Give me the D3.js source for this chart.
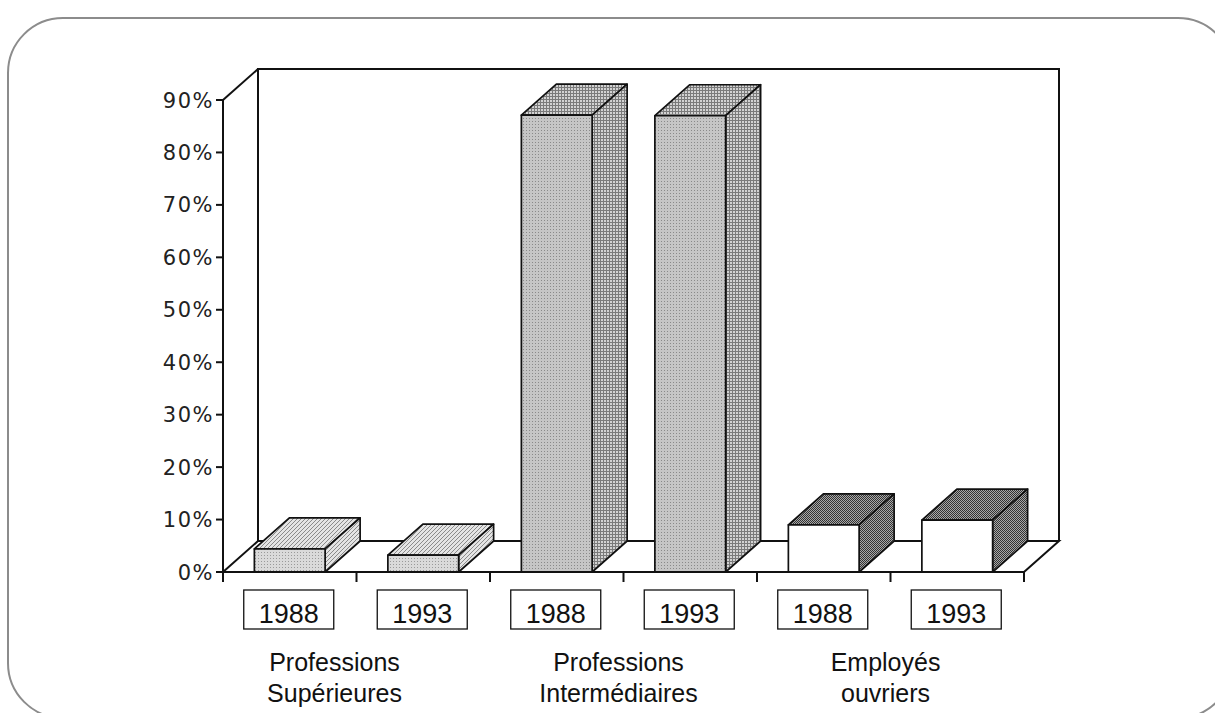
<!DOCTYPE html>
<html lang="fr">
<head>
  <meta charset="UTF-8">
  <title>Professions 1988 / 1993</title>
  <style>
    html, body { margin: 0; padding: 0; background: #fff; }
    svg { display: block; }
    .ylab { font-family: "DejaVu Sans", sans-serif; font-size: 21px; letter-spacing: 1.5px; fill: #222; }
    .year { font-family: "Liberation Sans", Arial, sans-serif; font-size: 27px; fill: #111; }
    .group { font-family: "Liberation Sans", Arial, sans-serif; font-size: 25px; fill: #111; }
  </style>
</head>
<body>
  <svg id="chart" width="1215" height="713"></svg>
  <script src="https://cdn.jsdelivr.net/npm/d3@7/dist/d3.min.js"></script>
  <script>
    // data
    const groups = [['Professions', 'Supérieures'], ['Professions', 'Intermédiaires'], ['Employés', 'ouvriers']]
    const years = ['1988', '1993']
    const values1988 = [4.4, 87.1, 9.0]
    const values1993 = [3.2, 87.0, 9.9]
    const yTicks = [0, 10, 20, 30, 40, 50, 60, 70, 80, 90]

    const bars = []
    groups.forEach((g, i) => {
      bars.push({ key: i + '-1988', group: i, year: years[0], value: values1988[i] })
      bars.push({ key: i + '-1993', group: i, year: years[1], value: values1993[i] })
    })

    const svg = d3.select('#chart')
    const dx = 35, dy = -31

    const x = d3.scaleBand().domain(bars.map(d => d.key)).range([223, 1024])
    const step = x.step()
    const barPad = step * 0.235, barW = step * 0.53
    const y = d3.scaleLinear().domain([0, 90]).range([572, 100])

    // patterns
    const defs = svg.append('defs')
    function pat(id, size, bg, draw) {
      const p = defs.append('pattern').attr('id', id).attr('patternUnits', 'userSpaceOnUse')
        .attr('width', size).attr('height', size)
      p.append('rect').attr('width', size).attr('height', size).attr('fill', bg)
      draw(p)
    }
    pat('front0', 3, '#dadada', p => {
      p.append('rect').attr('x', 0).attr('y', 0).attr('width', 1).attr('height', 1).attr('fill', '#9a9a9a')
    })
    pat('side0', 4, '#e4e4e4', p => {
      p.append('path').attr('d', 'M0,4 L4,0 M-1,1 L1,-1 M3,5 L5,3').attr('stroke', '#8a8a8a').attr('stroke-width', 1)
    })
    pat('front1', 3, '#c6c6c6', p => {
      p.append('rect').attr('x', 1).attr('y', 1).attr('width', 1).attr('height', 1).attr('fill', '#8a8a8a')
    })
    pat('side1', 3, '#d2d2d2', p => {
      p.append('rect').attr('x', 0).attr('y', 0).attr('width', 3).attr('height', 1).attr('fill', '#7a7a7a')
      p.append('rect').attr('x', 0).attr('y', 0).attr('width', 1).attr('height', 3).attr('fill', '#7a7a7a')
    })
    pat('side2', 2, '#a8a8a8', p => {
      p.append('rect').attr('x', 0).attr('y', 0).attr('width', 1).attr('height', 1).attr('fill', '#333')
      p.append('rect').attr('x', 1).attr('y', 1).attr('width', 1).attr('height', 1).attr('fill', '#333')
    })
    const frontFill = ['url(#front0)', 'url(#front1)', '#fff']
    const sideFill = ['url(#side0)', 'url(#side1)', 'url(#side2)']

    // outer rounded frame
    svg.append('rect').attr('x', 8).attr('y', 18).attr('width', 1225).attr('height', 700)
      .attr('rx', 55).attr('fill', 'none').attr('stroke', '#8c8c8c').attr('stroke-width', 2)

    const x0 = x.range()[0], x1 = x.range()[1]
    const y0 = y(0), yTop = y(90)

    // back wall + floor
    const wall = svg.append('g').attr('fill', 'none').attr('stroke', '#111').attr('stroke-width', 2)
    wall.append('path').attr('d', `M${x0 + dx},${y0 + dy} V${yTop + dy} H${x1 + dx} V${y0 + dy}`)
    wall.append('path').attr('d', `M${x0},${yTop} L${x0 + dx},${yTop + dy}`)
    wall.append('path').attr('d', `M${x0},${y0} L${x0 + dx},${y0 + dy} H${x1 + dx} L${x1},${y0}`)

    // bars
    const bar = svg.append('g').selectAll('g').data(bars).join('g')
      .attr('stroke', '#111').attr('stroke-width', 1.7).attr('stroke-linejoin', 'round')
    bar.append('path')
      .attr('fill', d => sideFill[d.group])
      .attr('d', d => {
        const l = x(d.key) + barPad, r = l + barW, t = y(d.value)
        return `M${l},${t} L${l + dx},${t + dy} H${r + dx} L${r},${t} Z`
      })
    bar.append('path')
      .attr('fill', d => sideFill[d.group])
      .attr('d', d => {
        const r = x(d.key) + barPad + barW, t = y(d.value)
        return `M${r},${t} L${r + dx},${t + dy} V${y0 + dy} L${r},${y0} Z`
      })
    bar.append('rect')
      .attr('fill', d => frontFill[d.group])
      .attr('x', d => x(d.key) + barPad)
      .attr('y', d => y(d.value))
      .attr('width', barW)
      .attr('height', d => y0 - y(d.value))

    // front axes
    const ax = svg.append('g').attr('stroke', '#111').attr('stroke-width', 2).attr('fill', 'none')
    ax.append('path').attr('d', `M${x0},${y0} H${x1}`)
    ax.append('path').attr('d', `M${x0},${y0} V${yTop}`)
    ax.selectAll('.xt').data(d3.range(bars.length + 1)).join('path')
      .attr('d', i => `M${x0 + i * step},${y0} v10`)
    ax.selectAll('.yt').data(yTicks).join('path')
      .attr('d', v => `M${x0},${y(v)} h-7`)

    svg.append('g').selectAll('text').data(yTicks).join('text')
      .attr('class', 'ylab')
      .attr('x', x0 - 9).attr('y', v => y(v)).attr('dy', '0.36em')
      .attr('text-anchor', 'end')
      .text(v => v + '%')

    // year boxes
    const yb = svg.append('g').selectAll('g').data(bars).join('g')
      .attr('transform', d => `translate(${x(d.key) + step / 2 - 1},590)`)
    yb.append('rect').attr('x', -45).attr('y', 0).attr('width', 90).attr('height', 39)
      .attr('fill', '#fff').attr('stroke', '#111').attr('stroke-width', 1.3)
    yb.append('text').attr('class', 'year').attr('text-anchor', 'middle').attr('y', 33)
      .text(d => d.year)

    // group labels (first one sits a little further left in the original)
    const labelShift = [-22, -5, -5]
    const gl = svg.append('g').selectAll('text').data(groups).join('text')
      .attr('class', 'group').attr('text-anchor', 'middle')
      .attr('transform', (g, i) => `translate(${x(i + '-1988') + step + labelShift[i]},0)`)
    gl.append('tspan').attr('x', 0).attr('y', 671).text(g => g[0])
    gl.append('tspan').attr('x', 0).attr('y', 702).text(g => g[1])
  </script>
</body>
</html>
